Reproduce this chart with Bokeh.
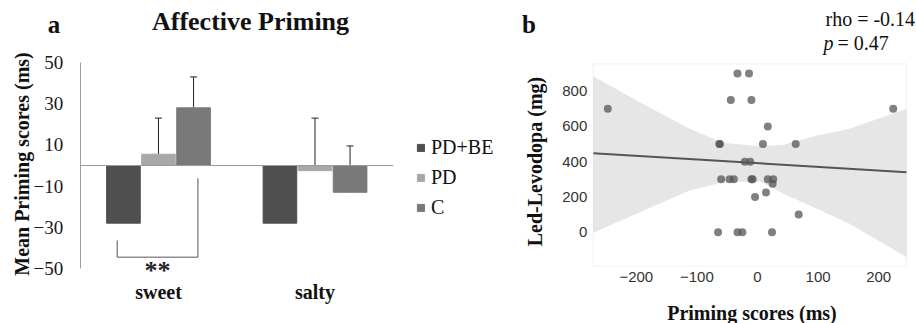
import math
from bokeh.plotting import figure
from bokeh.layouts import row
from bokeh.models import (Range1d, FixedTicker, Label, Legend, LegendItem, Whisker,
                          TeeHead, ColumnDataSource, BoxAnnotation)
from bokeh.embed import file_html
from bokeh.resources import INLINE

# ---------------- data: panel a ----------------
categories = ["sweet", "salty"]
groups = ["PD+BE", "PD", "C"]
group_colors = ["#4f4f4f", "#a8a8a8", "#797979"]
means = {
    "PD+BE": [-28, -28],
    "PD": [5.5, -2.5],
    "C": [28, -13],
}
errors = {
    "PD+BE": [19, 28],
    "PD": [17.5, 25.5],
    "C": [15, 22.5],
}
y_ticks_a = [-50, -30, -10, 10, 30, 50]
# significance bracket (x, y) for sweet PD+BE vs C
sig_x = [-0.264, -0.264, 0.252, 0.252]
sig_y = [-36.4, -44.5, -44.5, -6.2]
sig_text = "**"

# ---------------- data: panel b ----------------
scores_x = [-247, -33, -14, -44, -10, 17, -63, -62, 9, 63, 224, -21, -12, -60, -46, -39,
            -10, -8, 17, 26, 25, 14, -4, 68, -65, -33, -25, 24]
levodopa_y = [700, 900, 900, 750, 750, 600, 500, 500, 500, 500, 700, 400, 400, 300, 300, 300,
              300, 300, 300, 300, 275, 225, 200, 100, 0, 0, 0, 0]
reg_x = [-271, 246]
reg_y = [448, 340]
band_x = [-271, -194, -112, -57, 4, 43, 98, 152, 246]
band_upper = [885, 738, 587, 507, 488, 496, 549, 587, 700]
band_lower = [-3, 113, 237, 284, 288, 218, 133, 48, -142]
x_ticks_b = [-200, -100, 0, 100, 200]
y_ticks_b = [0, 200, 400, 600, 800]
data_box_b = (-271, 246, -193, 955)   # plotted data area (left, right, bottom, top)

SERIF = "Liberation Serif"
SANS = "Liberation Sans"
INK = "#111111"


def add_text(fig, x, y, text, size, style="normal", align="left", angle=0.0, color=INK):
    fig.add_layout(Label(x=x, y=y, text=text, text_align=align, text_baseline="middle",
                         angle=angle, text_font=SERIF, text_font_size=size,
                         text_font_style=style, text_color=color))


# ================= panel a =================
bar_w = 0.215
offsets = [-0.224, 0.0, 0.224]
p1 = figure(width=495, height=323, x_range=Range1d(-1.0096, 2.1534), y_range=Range1d(-76.7, 80.1),
            min_border=0, output_backend="svg", toolbar_location=None)
p1.grid.visible = False
p1.outline_line_color = None

items = []
for g, col, off in zip(groups, group_colors, offsets):
    xs = [i + off for i in range(len(categories))]
    src = ColumnDataSource(dict(x=xs, top=means[g],
                                upper=[m + e for m, e in zip(means[g], errors[g])]))
    r = p1.vbar(x="x", top="top", bottom=0, width=bar_w, source=src,
                fill_color=col, line_color=col)
    items.append(LegendItem(label=g, renderers=[r]))
    w = Whisker(source=src, base="x", lower="top", upper="upper", dimension="height",
                line_color="#222222", line_width=1,
                upper_head=TeeHead(size=7, line_color="#222222", line_width=1), lower_head=None)
    p1.add_layout(w)

# zero line across the category groups
p1.segment(x0=[-0.5], y0=[0], x1=[len(categories) - 0.5], y1=[0], line_color="#9a9a9a",
           line_width=1, level="overlay")

# significance bracket
p1.line(sig_x, sig_y, line_color="#555555", line_width=1)
add_text(p1, sum(sig_x[1:3]) / 2, -50.97, sig_text, "26px", "bold", "center", color="#222222")

yax = p1.yaxis[0]
yax.fixed_location = -0.5
yax.ticker = FixedTicker(ticks=y_ticks_a)
yax.bounds = (-50, 50)
yax.axis_line_color = "#a0a0a0"
yax.major_tick_line_color = None
yax.minor_tick_line_color = None
yax.major_tick_out = 0
yax.major_tick_in = 0
yax.major_label_text_font = SERIF
yax.major_label_text_font_size = "19px"
yax.major_label_text_color = "#1a1a1a"
yax.major_label_standoff = 17

xax = p1.xaxis[0]
xax.fixed_location = -50
xax.ticker = FixedTicker(ticks=list(range(len(categories))))
xax.major_label_overrides = {i: c for i, c in enumerate(categories)}
xax.axis_line_color = None
xax.major_tick_line_color = None
xax.minor_tick_line_color = None
xax.major_tick_out = 0
xax.major_tick_in = 0
xax.major_label_text_font = SERIF
xax.major_label_text_font_size = "20px"
xax.major_label_text_font_style = "bold"
xax.major_label_text_color = INK
xax.major_label_standoff = 13

legend = Legend(items=items, location=(416, 104), orientation="vertical",
                glyph_width=9, glyph_height=9, label_height=20, spacing=7,
                label_standoff=6, padding=0, margin=0,
                label_text_font=SERIF, label_text_font_size="20px", label_text_color=INK,
                border_line_color=None, background_fill_alpha=0)
p1.add_layout(legend)

add_text(p1, -0.875, 0.73, "Mean Priming scores (ms)", "20px", "bold", "center", angle=math.pi / 2)
add_text(p1, -0.668, 68.57, "a", "25px", "bold", "center")
add_text(p1, 0.588, 70.05, "Affective Priming", "26px", "bold", "center")

# ================= panel b =================
p2 = figure(width=421, height=323, x_range=Range1d(-432.3, 262.4), y_range=Range1d(-518.0, 1314.6),
            min_border=0, output_backend="svg", toolbar_location=None)
p2.grid.visible = False
p2.outline_line_color = None

p2.varea(x=band_x, y1=band_lower, y2=band_upper, fill_color="#e6e6e6")
p2.scatter(scores_x, levodopa_y, size=8, fill_color="#555555", fill_alpha=0.75, line_color=None)
p2.line(reg_x, reg_y, line_color="#555555", line_width=2)
p2.add_layout(BoxAnnotation(left=data_box_b[0], right=data_box_b[1], bottom=data_box_b[2],
                            top=data_box_b[3], fill_alpha=0, line_color="#cfcfcf", line_width=1))

for ax in (p2.xaxis[0], p2.yaxis[0]):
    ax.axis_line_color = None
    ax.major_tick_line_color = None
    ax.minor_tick_line_color = None
    ax.major_tick_out = 0
    ax.major_tick_in = 0
    ax.major_label_text_font = SANS
    ax.major_label_text_font_size = "15px"
    ax.major_label_text_color = "#333333"
    ax.major_label_standoff = 6

p2.xaxis[0].fixed_location = data_box_b[2]
p2.xaxis[0].ticker = FixedTicker(ticks=x_ticks_b)
p2.xaxis[0].major_label_overrides = {t: ("\u2212" + str(-t) if t < 0 else str(t)) for t in x_ticks_b}
p2.yaxis[0].fixed_location = data_box_b[0]
p2.yaxis[0].ticker = FixedTicker(ticks=y_ticks_b)

add_text(p2, -366.3, 401, "Led-Levodopa (mg)", "20px", "bold", "center", angle=math.pi / 2)
add_text(p2, -9.1, -455.6, "Priming scores (ms)", "20px", "bold", "center")
add_text(p2, -377, 1179.9, "b", "25px", "bold", "center")
add_text(p2, 112.2, 1210.2, "rho = -0.14", "20px")
add_text(p2, 108.9, 1072.3, "p", "20px", "italic")
add_text(p2, 132.0, 1072.3, "= 0.47", "20px")

layout = row(p1, p2)
open("out.html", "w").write(file_html(layout, INLINE))
